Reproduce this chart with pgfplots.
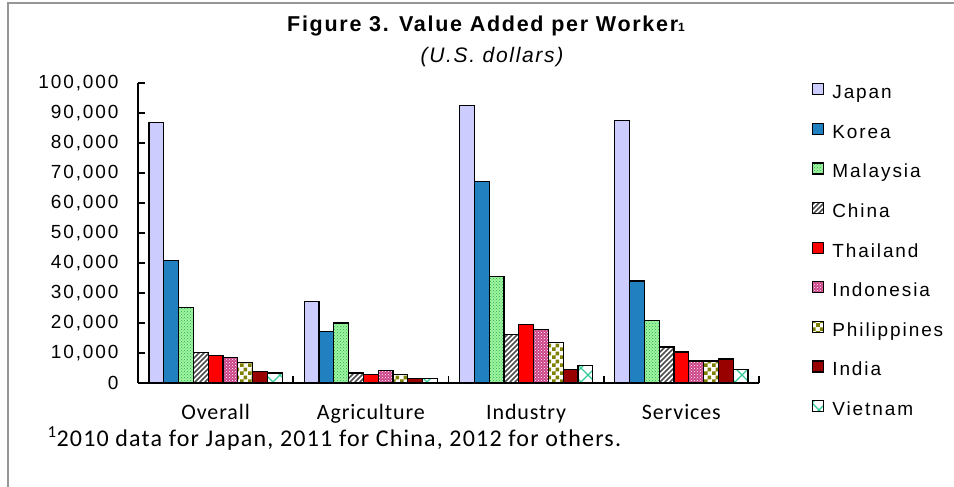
\documentclass[border=0pt]{standalone}
\usepackage{fontspec}
\setmainfont{Liberation Sans}
\usepackage{pgfplots}
\usepackage{pgfplotstable}
\pgfplotsset{compat=1.18}
\usetikzlibrary{patterns}

\newfontfamily\arialsp[LetterSpace=10]{Liberation Sans}
\newfontfamily\titlesp[LetterSpace=8]{Liberation Sans}
\newfontfamily\subsp[LetterSpace=8]{Liberation Sans}
\newfontfamily\calsp[LetterSpace=4]{Carlito}
\newfontfamily\notesp[LetterSpace=5]{Carlito}

\definecolor{cJapan}{RGB}{204,204,255}
\definecolor{cKorea}{RGB}{32,128,192}
\definecolor{cMalay}{RGB}{160,245,160}
\definecolor{cMalayDot}{RGB}{40,170,80}
\definecolor{cThai}{RGB}{255,0,0}
\definecolor{cIndo}{RGB}{204,68,136}
\definecolor{cPhil}{RGB}{128,128,0}
\definecolor{cIndia}{RGB}{153,0,0}
\definecolor{cViet}{RGB}{51,204,153}
\definecolor{frame}{RGB}{150,150,150}

% wide diagonal stripes (China)
\pgfdeclarepatternformonly{widestripes}{\pgfqpoint{-1pt}{-1pt}}{\pgfqpoint{6pt}{6pt}}{\pgfqpoint{5pt}{5pt}}{
  \pgfsetlinewidth{1.6pt}
  \pgfpathmoveto{\pgfqpoint{0pt}{0pt}}
  \pgfpathlineto{\pgfqpoint{5.1pt}{5.1pt}}
  \pgfusepath{stroke}}
% big cross (Vietnam)
\pgfdeclarepatternformonly{bigcross}{\pgfqpoint{-1pt}{-1pt}}{\pgfqpoint{15pt}{15pt}}{\pgfqpoint{14pt}{14pt}}{
  \pgfsetlinewidth{1.2pt}
  \pgfpathmoveto{\pgfqpoint{0pt}{0pt}}
  \pgfpathlineto{\pgfqpoint{14.1pt}{14.1pt}}
  \pgfpathmoveto{\pgfqpoint{0pt}{14pt}}
  \pgfpathlineto{\pgfqpoint{14.1pt}{-0.1pt}}
  \pgfusepath{stroke}}
% checker (Philippines)
\pgfdeclarepatternformonly{bigchecker}{\pgfqpoint{0pt}{0pt}}{\pgfqpoint{8pt}{8pt}}{\pgfqpoint{8pt}{8pt}}{
  \pgfpathrectangle{\pgfqpoint{0pt}{0pt}}{\pgfqpoint{4pt}{4pt}}
  \pgfpathrectangle{\pgfqpoint{4pt}{4pt}}{\pgfqpoint{4pt}{4pt}}
  \pgfusepath{fill}}

\pgfplotstableread{
cat Japan Korea Malaysia China Thailand Indonesia Philippines India Vietnam
0   86700 40900 25100    10200 9100     8600      6900        3900  3300
1   27100 17200 20000    3300  2800     4100      2800        1500  1500
2   92600 67100 35500    16100 19600    17800     13600       4500  5800
3   87400 34000 20700    12000 10300    7300      7300        8000  4500
}\datatable

\begin{document}
\begin{tikzpicture}
\useasboundingbox (0pt,0pt) rectangle (954pt,487pt);
\draw[frame, line width=1.5pt] (8pt,0pt) -- (8pt,484pt) -- (954pt,484pt);

\begin{axis}[
    at={(138pt,104pt)}, anchor=south west,
    scale only axis, width=621pt, height=300pt,
    ybar=0pt, bar width=0.0953,
    xmin=-0.5, xmax=3.5, ymin=0, ymax=100000,
    axis lines*=left,
    axis line style={line width=1.8pt},
    xtick={0,1,2,3},
    xticklabels={Overall,Agriculture,Industry,Services},
    minor xtick={0.5,1.5,2.5,3.5},
    ytick={0,10000,20000,30000,40000,50000,60000,70000,80000,90000,100000},
    yticklabels={0,{10,000},{20,000},{30,000},{40,000},{50,000},{60,000},{70,000},{80,000},{90,000},{100,000}},
    minor ytick={0,10000,20000,30000,40000,50000,60000,70000,80000,90000,100000},
    major tick length=0pt, minor tick length=7pt,
    tick align=inside,
    tick style={black, line width=1.5pt},
    scaled y ticks=false,
    yticklabel style={font=\arialsp\fontsize{19}{22}\selectfont, xshift=-16pt},
    xticklabel style={font=\calsp\fontsize{22}{26}\selectfont, inner sep=0pt, yshift=-21pt},
    legend image code/.code={\draw[#1, line width=1.2pt] (0pt,-0.5pt) rectangle (11pt,10.5pt);},
    legend style={draw=none, fill=none, at={(axis description cs:1.0853,1.0)}, anchor=north west,
        font=\arialsp\fontsize{19}{22}\selectfont, inner sep=0pt, row sep=19pt,
        nodes={inner sep=0pt, text height=14pt, text depth=5pt},
        /tikz/every odd column/.append style={column sep=8pt}},
    legend cell align=left,
    every axis plot/.append style={draw=black, line width=1.2pt},
]
\addplot[fill=cJapan] table[x=cat,y=Japan]{\datatable};
\addlegendentry{Japan}
\addplot[fill=cKorea] table[x=cat,y=Korea]{\datatable};
\addlegendentry{Korea}
\addplot[fill=cMalay, postaction={pattern=crosshatch dots, pattern color=cMalayDot}] table[x=cat,y=Malaysia]{\datatable};
\addlegendentry{Malaysia}
\addplot[fill=white, postaction={pattern=widestripes, pattern color=black!70}] table[x=cat,y=China]{\datatable};
\addlegendentry{China}
\addplot[fill=cThai] table[x=cat,y=Thailand]{\datatable};
\addlegendentry{Thailand}
\addplot[fill=cIndo, postaction={pattern=crosshatch dots, pattern color=white}] table[x=cat,y=Indonesia]{\datatable};
\addlegendentry{Indonesia}
\addplot[fill=white, postaction={pattern=bigchecker, pattern color=cPhil}] table[x=cat,y=Philippines]{\datatable};
\addlegendentry{Philippines}
\addplot[fill=cIndia] table[x=cat,y=India]{\datatable};
\addlegendentry{India}
\addplot[fill=white, postaction={pattern=bigcross, pattern color=cViet}] table[x=cat,y=Vietnam]{\datatable};
\addlegendentry{Vietnam}
\end{axis}

\node[anchor=base, font=\titlesp\bfseries\fontsize{21.5}{24}\selectfont] at (486pt,455pt) {Figure 3. Value Added per Worker{\fontsize{12}{12}\selectfont 1}};
\node[anchor=base, font=\subsp\itshape\fontsize{21}{24}\selectfont] at (492pt,424pt) {(U.S. dollars)};
\node[anchor=base west, font=\notesp\fontsize{24}{28}\selectfont] at (44pt,40pt) {\textsuperscript{1}2010 data for Japan, 2011 for China, 2012 for others.};
\end{tikzpicture}
\end{document}
